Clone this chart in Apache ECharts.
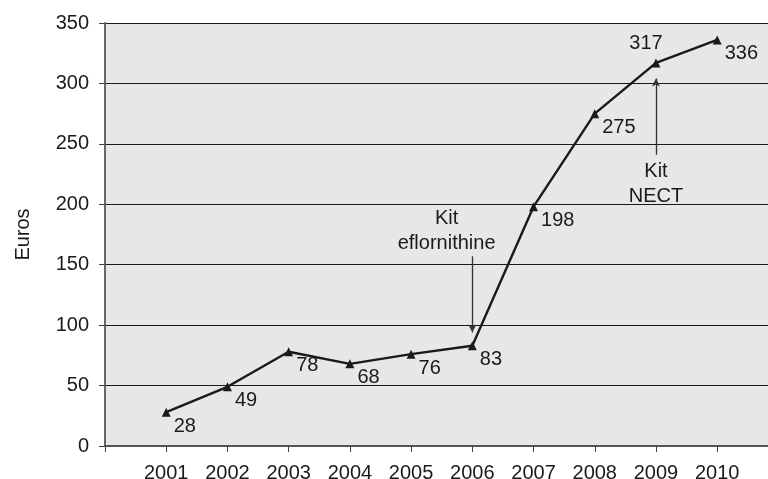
<!DOCTYPE html>
<html>
<head>
<meta charset="utf-8">
<script src="https://cdn.jsdelivr.net/npm/echarts@6/dist/echarts.min.js"></script>
<style>html,body{margin:0;padding:0;background:#fff}#c{width:768px;height:479px}</style>
</head>
<body>
<div id="c"></div>
<script>
const years = [2001, 2002, 2003, 2004, 2005, 2006, 2007, 2008, 2009, 2010];
const euros = [28, 49, 78, 68, 76, 83, 198, 275, 317, 336];
const yTicks = [0, 50, 100, 150, 200, 250, 300, 350];
const yAxisName = 'Euros';
const noteEflo = 'Kit\neflornithine';
const noteNect = 'Kit\nNECT';

const FONT = 'Liberation Sans, Arial, Helvetica, sans-serif';
const TXT = '#1a1a1a';
const chart = echarts.init(document.getElementById('c'));

const seriesData = years.map((y, i) => {
  const item = { value: [y, euros[i]] };
  if (y === 2009) {
    item.label = { position: 'top', offset: [-10, -2] };
  }
  return item;
});

chart.setOption({
  animation: false,
  backgroundColor: '#ffffff',
  grid: {
    left: 105, right: 0, top: 23, bottom: 33,
    outerBoundsMode: 'none',
    containLabel: false,
    show: true, backgroundColor: '#e6e7e8', borderWidth: 0
  },
  xAxis: {
    type: 'value',
    min: 2000,
    max: 2010.83,
    interval: 1,
    axisLine: { show: true, onZero: false, lineStyle: { color: '#555', width: 2 } },
    axisTick: { show: true, length: 6, lineStyle: { color: '#444', width: 1 } },
    splitLine: { show: false },
    axisLabel: {
      margin: 17,
      color: TXT,
      fontFamily: FONT,
      fontSize: 20,
      showMinLabel: true,
      showMaxLabel: true,
      formatter: v => (years.indexOf(Math.round(v)) >= 0 && Math.abs(v - Math.round(v)) < 1e-6) ? String(Math.round(v)) : ''
    }
  },
  yAxis: {
    type: 'value',
    min: yTicks[0],
    max: yTicks[yTicks.length - 1],
    interval: 50,
    name: yAxisName,
    nameLocation: 'middle',
    nameGap: 72,
    nameRotate: 90,
    nameTextStyle: { color: TXT, fontFamily: FONT, fontSize: 20 },
    axisLine: { show: true, lineStyle: { color: '#666', width: 2 } },
    axisTick: { show: true, length: 6, lineStyle: { color: '#444', width: 1 } },
    splitLine: { show: true, lineStyle: { color: '#1a1a1a', width: 1.2 } },
    axisLabel: { margin: 16, color: TXT, fontFamily: FONT, fontSize: 20 }
  },
  series: [{
    type: 'line',
    data: seriesData,
    symbol: 'triangle',
    symbolSize: 9,
    lineStyle: { color: '#1a1a1a', width: 2.4 },
    itemStyle: { color: '#1a1a1a' },
    label: {
      show: true,
      position: 'right',
      distance: 3,
      offset: [0, 14],
      color: TXT,
      fontFamily: FONT,
      fontSize: 20,
      formatter: p => String(p.value[1])
    },
    markLine: {
      silent: true,
      symbol: ['none', 'arrow'],
      symbolSize: [6, 8],
      label: { show: false },
      lineStyle: { color: '#333', width: 1.3, type: 'solid' },
      data: [
        [{ coord: [2006, 157] }, { coord: [2006, 94] }],
        [{ coord: [2009, 241] }, { coord: [2009, 304] }]
      ]
    },
    markPoint: {
      silent: true,
      symbol: 'circle',
      symbolSize: 0,
      label: {
        show: true,
        position: 'inside',
        color: TXT,
        fontFamily: FONT,
        fontSize: 20,
        lineHeight: 25,
        align: 'center'
      },
      data: [
        { coord: [2005.58, 177.5], value: 0, label: { formatter: noteEflo } },
        { coord: [2009.0, 217], value: 0, label: { formatter: noteNect } }
      ]
    }
  }]
});
</script>
</body>
</html>
